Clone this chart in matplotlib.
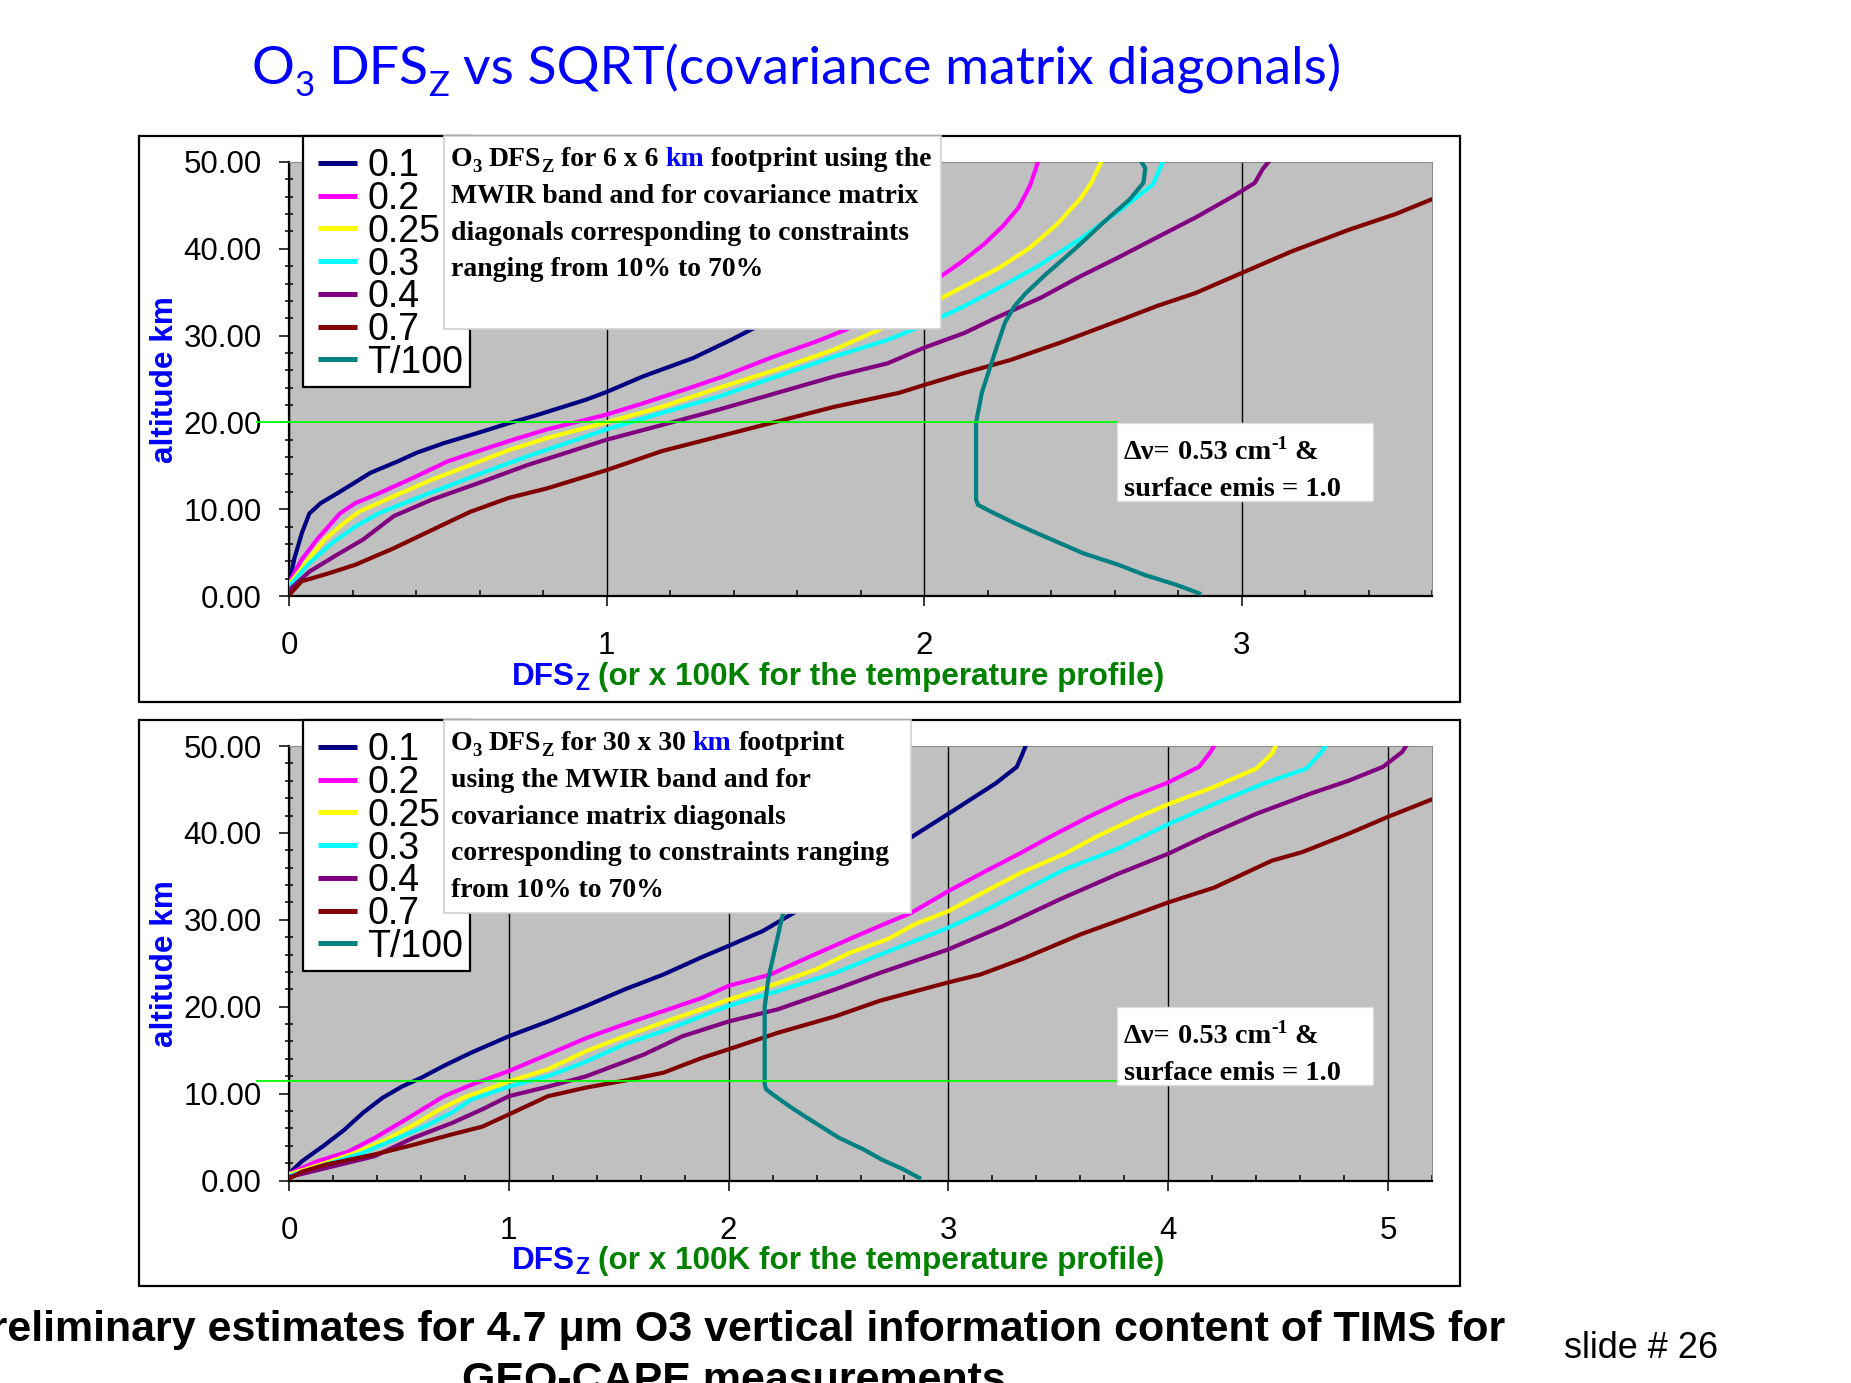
import matplotlib
matplotlib.use("Agg")
import matplotlib.pyplot as plt
from matplotlib.patches import Rectangle
from matplotlib.ticker import MultipleLocator, FormatStrFormatter

plt.rcParams["font.family"] = ["Liberation Sans", "DejaVu Sans"]

W, H, DPI = 1851, 1383, 100

# ---------------------------------------------------------------- data
SERIES_LABELS = ["0.1", "0.2", "0.25", "0.3", "0.4", "0.7"]
SERIES_COLORS = ["#000080", "#ff00ff", "#ffff00", "#00ffff", "#800080", "#800000"]
TEMP_LABEL = "T/100"
TEMP_COLOR = "#008080"

# 6 x 6 km footprint: DFS_Z (x) vs altitude km (z)
dfs6_01 = [0, 0.016, 0.04, 0.064, 0.10, 0.16, 0.257, 0.342, 0.402, 0.487, 0.596, 0.692, 0.777,
           0.873, 0.934, 1.0, 1.115, 1.272, 1.392, 1.477, 1.60, 1.74, 1.85, 1.92]
alt6_01 = [1.1, 4.2, 7.2, 9.5, 10.7, 12.0, 14.2, 15.5, 16.5, 17.6, 18.8, 19.9, 20.8,
           21.9, 22.6, 23.5, 25.3, 27.4, 29.5, 31.1, 35.0, 40.0, 45.0, 50.0]
dfs6_02 = [0, 0.04, 0.088, 0.124, 0.16, 0.209, 0.281, 0.39, 0.499, 0.596, 0.705, 0.813, 0.934,
           1.0, 1.115, 1.248, 1.368, 1.514, 1.659, 1.755, 1.90, 2.048, 2.115, 2.188, 2.248,
           2.297, 2.333, 2.352, 2.358]
alt6_02 = [1.5, 4.2, 6.5, 8.0, 9.5, 10.7, 11.8, 13.6, 15.5, 16.7, 18.0, 19.2, 20.3,
           20.9, 22.2, 23.8, 25.3, 27.4, 29.3, 30.7, 33.5, 36.7, 38.4, 40.5, 42.6,
           44.7, 47.2, 49.2, 50.0]
dfs6_025 = [0, 0.052, 0.112, 0.173, 0.22, 0.33, 0.45, 0.571, 0.692, 0.813, 1.0, 1.175, 1.356,
            1.537, 1.718, 1.86, 1.96, 2.048, 2.127, 2.236, 2.333, 2.418, 2.491, 2.527, 2.558]
alt6_025 = [1.3, 3.8, 6.5, 8.4, 9.7, 11.5, 13.4, 15.1, 16.8, 18.2, 20.0, 21.8, 24.0,
            26.1, 28.4, 30.7, 32.5, 34.2, 35.7, 37.8, 40.1, 42.8, 45.7, 47.6, 50.0]
dfs6_03 = [0, 0.064, 0.136, 0.209, 0.281, 0.39, 0.51, 0.632, 0.752, 0.873, 1.0, 1.175, 1.356,
           1.537, 1.718, 1.885, 2.006, 2.127, 2.236, 2.358, 2.491, 2.612, 2.721, 2.752]
alt6_03 = [1.1, 3.8, 6.1, 8.0, 9.5, 11.1, 12.8, 14.5, 16.1, 17.6, 19.2, 21.1, 23.0,
           25.3, 27.6, 29.5, 31.3, 33.4, 35.5, 38.0, 41.1, 44.3, 47.4, 50.0]
dfs6_04 = [0, 0.064, 0.149, 0.233, 0.33, 0.45, 0.596, 0.752, 0.873, 1.0, 1.175, 1.356, 1.537,
           1.718, 1.885, 2.0, 2.127, 2.224, 2.37, 2.491, 2.612, 2.733, 2.855, 2.976, 3.042,
           3.067, 3.085]
alt6_04 = [0.7, 2.8, 4.7, 6.5, 9.2, 11.1, 13.0, 15.1, 16.5, 18.0, 19.7, 21.5, 23.4,
           25.3, 26.8, 28.6, 30.3, 32.0, 34.4, 36.8, 39.0, 41.3, 43.6, 46.1, 47.6,
           49.2, 50.0]
dfs6_07 = [0, 0.04, 0.124, 0.209, 0.33, 0.45, 0.571, 0.692, 0.813, 1.0, 1.175, 1.356, 1.537,
           1.718, 1.921, 2.0, 2.127, 2.273, 2.43, 2.612, 2.733, 2.855, 3.0, 3.158, 3.339,
           3.485, 3.606]
alt6_07 = [0.1, 1.7, 2.6, 3.6, 5.5, 7.6, 9.7, 11.3, 12.4, 14.5, 16.7, 18.4, 20.1,
           21.8, 23.4, 24.3, 25.7, 27.2, 29.2, 31.7, 33.4, 34.9, 37.2, 39.7, 42.2,
           44.0, 45.8]

# 30 x 30 km footprint
dfs30_01 = [0, 0.058, 0.163, 0.25, 0.337, 0.425, 0.513, 0.6, 0.705, 0.828, 1.0, 1.178, 1.353,
            1.528, 1.703, 1.878, 2.0, 2.155, 2.31, 2.55, 2.831, 3.0, 3.092, 3.215, 3.311,
            3.337, 3.351]
alt30_01 = [0.8, 2.2, 4.1, 5.8, 7.8, 9.5, 10.8, 11.8, 13.2, 14.7, 16.6, 18.3, 20.1,
            22.0, 23.7, 25.7, 27.0, 28.7, 31.0, 35.0, 39.5, 42.2, 43.7, 45.7, 47.6,
            49.1, 50.0]
dfs30_02 = [0, 0.128, 0.268, 0.39, 0.53, 0.653, 0.705, 0.828, 1.0, 1.178, 1.353, 1.528, 1.703,
            1.878, 2.0, 2.19, 2.364, 2.551, 2.726, 2.831, 3.0, 3.162, 3.337, 3.459, 3.634,
            3.808, 4.0, 4.14, 4.192, 4.209]
alt30_02 = [0.8, 2.2, 3.3, 4.9, 7.0, 8.9, 9.7, 11.0, 12.6, 14.5, 16.4, 18.0, 19.5,
            21.0, 22.4, 23.7, 25.7, 27.8, 29.7, 30.8, 33.3, 35.5, 37.8, 39.5, 41.8,
            43.9, 45.8, 47.6, 49.3, 50.0]
dfs30_025 = [0, 0.163, 0.302, 0.442, 0.581, 0.686, 0.79, 1.0, 1.178, 1.353, 1.528, 1.703, 2.0,
             2.19, 2.398, 2.551, 2.726, 2.848, 3.0, 3.162, 3.337, 3.529, 3.668, 3.843, 4.0,
             4.209, 4.401, 4.471, 4.489]
alt30_025 = [0.7, 2.0, 3.2, 4.7, 6.6, 8.2, 9.5, 11.4, 12.8, 14.9, 16.6, 18.2, 20.8,
             22.4, 24.3, 26.2, 27.8, 29.5, 31.0, 33.2, 35.5, 37.6, 39.5, 41.6, 43.3,
             45.3, 47.4, 49.1, 50.0]
dfs30_03 = [0, 0.163, 0.337, 0.477, 0.617, 0.74, 0.828, 1.0, 1.178, 1.353, 1.528, 1.703, 2.0,
            2.224, 2.486, 2.69, 3.0, 3.162, 3.337, 3.529, 3.773, 4.0, 4.244, 4.436, 4.628,
            4.698, 4.715]
alt30_03 = [0.5, 1.8, 3.2, 4.7, 6.2, 7.8, 9.3, 10.8, 12.0, 13.7, 15.7, 17.2, 20.1,
            21.8, 23.9, 26.0, 29.1, 31.0, 33.3, 35.8, 38.2, 41.0, 43.7, 45.7, 47.4,
            49.3, 50.0]
dfs30_04 = [0, 0.163, 0.39, 0.565, 0.74, 0.88, 1.0, 1.178, 1.353, 1.615, 1.79, 2.0, 2.224,
            2.486, 2.69, 3.0, 3.25, 3.511, 3.773, 4.0, 4.175, 4.401, 4.645, 4.82, 4.977,
            5.064, 5.082]
alt30_04 = [0.4, 1.4, 2.8, 4.9, 6.6, 8.2, 9.7, 10.8, 12.0, 14.5, 16.6, 18.3, 19.7,
            22.0, 23.9, 26.6, 29.3, 32.4, 35.3, 37.6, 39.7, 42.2, 44.5, 46.0, 47.6,
            49.3, 50.0]
dfs30_07 = [0, 0.058, 0.163, 0.39, 0.565, 0.74, 0.88, 1.0, 1.178, 1.353, 1.528, 1.703, 1.878,
            2.0, 2.224, 2.486, 2.69, 3.0, 3.145, 3.337, 3.599, 3.773, 4.0, 4.209, 4.471,
            4.611, 4.82, 4.995, 5.204]
alt30_07 = [0.2, 1.0, 1.8, 3.0, 4.1, 5.3, 6.2, 7.6, 9.7, 10.7, 11.5, 12.4, 14.1,
            15.1, 17.0, 18.9, 20.7, 22.8, 23.7, 25.5, 28.3, 29.9, 32.0, 33.7, 36.8,
            37.8, 39.9, 41.8, 43.9]

# temperature profile / 100 (same atmosphere in both panels)
temp_x = [2.867, 2.794, 2.697, 2.612, 2.503, 2.358, 2.285, 2.212, 2.17, 2.164, 2.164, 2.182,
          2.206, 2.23, 2.255, 2.285, 2.321, 2.382, 2.479, 2.564, 2.648, 2.691, 2.697, 2.685]
temp_z = [0.3, 1.3, 2.4, 3.6, 4.9, 7.2, 8.4, 9.7, 10.5, 11.1, 20.0, 23.4,
          26.1, 28.8, 31.5, 33.4, 34.9, 37.0, 40.1, 43.0, 45.7, 47.6, 49.3, 50.0]

PANEL6_X = [dfs6_01, dfs6_02, dfs6_025, dfs6_03, dfs6_04, dfs6_07]
PANEL6_Z = [alt6_01, alt6_02, alt6_025, alt6_03, alt6_04, alt6_07]
PANEL30_X = [dfs30_01, dfs30_02, dfs30_025, dfs30_03, dfs30_04, dfs30_07]
PANEL30_Z = [alt30_01, alt30_02, alt30_025, alt30_03, alt30_04, alt30_07]

GREEN_ALT_6 = 20.0
GREEN_ALT_30 = 11.5
XMAX_6 = 3.6
XMAX_30 = 5.2

# ---------------------------------------------------------------- figure
fig = plt.figure(figsize=(W / DPI, H / DPI), dpi=DPI)
fig.patch.set_facecolor("white")

AX_L, AX_R = 289, 1432
NOTE_L, NOTE_R = 1117, 1373          # left/right of the resolution note box


def px_axes(l, t, r, b, **kw):
    return fig.add_axes([l / W, 1 - b / H, (r - l) / W, (b - t) / H], **kw)


def draw_panel(ax, xs_list, zs_list, xmax, green_alt):
    unit = (AX_R - AX_L) / xmax
    ax.set_facecolor("#c0c0c0")
    ax.set_axisbelow(True)
    for xs, zs, c in zip(xs_list, zs_list, SERIES_COLORS):
        ax.plot(xs, zs, color=c, lw=3.0, solid_joinstyle="round", zorder=3)
    ax.plot(temp_x, temp_z, color=TEMP_COLOR, lw=3.0, solid_joinstyle="round", zorder=3)
    # reference altitude line: from just left of the axis to the note box
    ax.plot([-32 / unit, (NOTE_L - AX_L) / unit], [green_alt, green_alt],
            color="#00ff00", lw=1.3, clip_on=False, zorder=4)
    ax.set_xlim(0, xmax)
    ax.set_ylim(0, 50)
    ax.xaxis.set_major_locator(MultipleLocator(1))
    ax.xaxis.set_minor_locator(MultipleLocator(0.2))
    ax.yaxis.set_major_locator(MultipleLocator(10))
    ax.yaxis.set_minor_locator(MultipleLocator(2))
    ax.yaxis.set_major_formatter(FormatStrFormatter("%.2f"))
    ax.xaxis.set_major_formatter(FormatStrFormatter("%d"))
    ax.grid(axis="x", which="major", color="black", lw=1.0)
    ax.tick_params(axis="x", which="major", direction="out", length=7.5, width=1.1,
                   pad=18, labelsize=22.5)
    ax.tick_params(axis="x", which="minor", direction="in", length=4, width=1.1)
    ax.tick_params(axis="y", which="major", direction="out", length=7.5, width=1.1,
                   pad=12, labelsize=22.5)
    ax.tick_params(axis="y", which="minor", direction="inout", length=6, width=1.1)
    for side in ("left", "bottom"):
        ax.spines[side].set_color("black")
        ax.spines[side].set_linewidth(1.6)
    for side in ("top", "right"):
        ax.spines[side].set_color("#8c8c8c")
        ax.spines[side].set_linewidth(0.8)


ax6 = px_axes(AX_L, 162, AX_R, 596)
draw_panel(ax6, PANEL6_X, PANEL6_Z, XMAX_6, GREEN_ALT_6)
ax30 = px_axes(AX_L, 746, AX_R, 1180.5)
draw_panel(ax30, PANEL30_X, PANEL30_Z, XMAX_30, GREEN_ALT_30)

# overlay in figure pixels (y downwards) for frames, boxes and text
ov = px_axes(0, 0, W, H, zorder=10)
ov.set_xlim(0, W)
ov.set_ylim(H, 0)
ov.axis("off")

_space_cache = {}


def _width(t):
    return t.get_window_extent(fig.canvas.get_renderer()).width


def space_px(st):
    key = tuple(sorted((k, str(v)) for k, v in st.items()))
    if key not in _space_cache:
        a = ov.text(0, 0, "n n", **st)
        b = ov.text(0, 0, "nn", **st)
        _space_cache[key] = _width(a) - _width(b)
        a.remove()
        b.remove()
    return _space_cache[key]


def rich(x, y, parts, ha="left", zorder=6):
    """parts: (string, style, dy_px, space_before); y is the baseline."""
    made, total = [], 0.0
    for s, st, dy, sp in parts:
        t = ov.text(0, 0, s, ha="left", va="baseline", zorder=zorder, **st)
        w = _width(t)
        g = space_px(st) if sp else 0.0
        made.append((t, dy, g, w))
        total += g + w
    cur = x - total / 2 if ha == "center" else x
    for t, dy, g, w in made:
        cur += g
        t.set_position((cur, y + dy))
        cur += w


def box(l, t, r, b, fc="white", ec="black", lw=1.5, fill=True, z=1):
    ov.add_patch(Rectangle((l, t), r - l, b - t, facecolor=fc if fill else "none",
                           edgecolor=ec, lw=lw, fill=fill, zorder=z))


# title
TITLE = dict(fontsize=38.5, color="#0000ff", family=["Lato", "DejaVu Sans"])
TITLE_SUB = dict(fontsize=25, color="#0000ff", family=["Lato", "DejaVu Sans"])
rich(796, 84, [("O", TITLE, 0, False), ("3", TITLE_SUB, 12, False),
               ("DFS", TITLE, 0, True), ("Z", TITLE_SUB, 12, False),
               ("vs SQRT(covariance matrix diagonals)", TITLE, 0, True)], ha="center")

SERIF = dict(fontsize=20, color="black", family=["Liberation Serif", "DejaVu Serif"],
             fontweight="bold")
SERIF_SUB = dict(SERIF, fontsize=13.5)
SERIF_BLUE = dict(SERIF, color="#0000ff")
NOTE = dict(SERIF, fontsize=20.4)
NOTE_SUP = dict(SERIF, fontsize=14)
SANS_B = dict(fontsize=22.7, fontweight="bold", family=["Liberation Sans", "DejaVu Sans"])

panels = [
    (0, ["6 x 6", "footprint using the"],
     ["MWIR band and for covariance matrix",
      "diagonals corresponding to constraints",
      "ranging from 10% to 70%"], 941, 329),
    (584, ["30 x 30", "footprint"],
     ["using the MWIR band and for",
      "covariance matrix diagonals",
      "corresponding to constraints ranging",
      "from 10% to 70%"], 911, 913),
]

for off, (size_txt, after_km), lines, box_right, box_bottom in panels:
    # outer frame
    box(139, 136 + off, 1460, 702 + off, fill=False, ec="black", lw=1.6)
    # legend
    box(303, 136 + off, 470, 387 + off, fc="white", ec="black", lw=1.6, z=2)
    labels = SERIES_LABELS + [TEMP_LABEL]
    colors = SERIES_COLORS + [TEMP_COLOR]
    for i, (lab, c) in enumerate(zip(labels, colors)):
        yc = 163 + off + i * 32.7
        ov.plot([318, 357], [yc, yc], color=c, lw=3.6, solid_capstyle="butt", zorder=3)
        ov.text(367, yc + 13.5, lab, fontsize=27, va="baseline", ha="left", zorder=3)
    # description box
    box(444, 136 + off, box_right, box_bottom, fc="white", ec="#cfcfcf", lw=1.2, z=4)
    y0 = 166.5 + off
    rich(451, y0, [("O", SERIF, 0, False), ("3", SERIF_SUB, 5, False),
                   ("DFS", SERIF, 0, True), ("Z", SERIF_SUB, 5, False),
                   ("for " + size_txt, SERIF, 0, True), ("km", SERIF_BLUE, 0, True),
                   (after_km, SERIF, 0, True)])
    for k, line in enumerate(lines):
        ov.text(451, y0 + 36.6 * (k + 1), line, va="baseline", ha="left", zorder=6, **SERIF)
    # spectral resolution note
    box(NOTE_L, 423 + off, NOTE_R, 501 + off, fc="white", ec="#dddddd", lw=1.0, z=4)
    rich(1124, 459 + off, [("\u0394\u03bd=", NOTE, 0, False), ("0.53 cm", NOTE, 0, True),
                           ("-1", NOTE_SUP, -10, False), ("&", NOTE, 0, True)])
    ov.text(1124, 496 + off, "surface emis = 1.0", va="baseline", ha="left", zorder=6, **NOTE)
    # axis titles
    ov.text(165, 380 + off, "altitude km", rotation=90, ha="center", va="center",
            color="#0000ff", **SANS_B)
    rich(838, 685 + off, [("DFS", dict(SANS_B, color="#0000ff"), 0, False),
                          ("Z", dict(SANS_B, color="#0000ff", fontsize=16.5), 5, False),
                          ("(or x 100K for the temperature profile)",
                           dict(SANS_B, color="#008000"), 0, True)], ha="center")

# footer
ov.text(734, 1341, "Preliminary estimates for 4.7 \u03bcm O3 vertical information content of TIMS for",
        ha="center", va="baseline", fontsize=31, fontweight="bold")
ov.text(734, 1392, "GEO-CAPE measurements", ha="center", va="baseline",
        fontsize=31, fontweight="bold")
ov.text(1564, 1358, "slide # 26", ha="left", va="baseline", fontsize=26)

fig.savefig("out.png", dpi=DPI)
